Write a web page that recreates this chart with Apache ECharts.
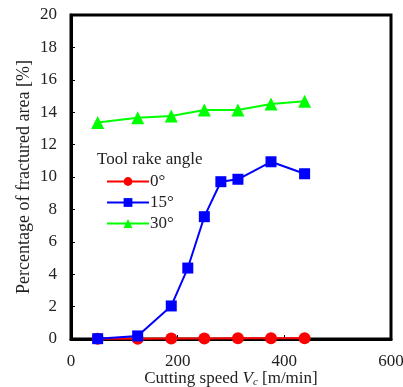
<!DOCTYPE html>
<html lang="en">
<head>
  <meta charset="UTF-8">
  <title>Fractured area vs cutting speed</title>
  <script src="https://cdn.jsdelivr.net/npm/echarts@6/dist/echarts.min.js"></script>
  <style>
    html, body { margin: 0; padding: 0; background: #fff; }
    #chart { width: 403px; height: 387px; }
  </style>
</head>
<body>
  <div id="chart"></div>
  <script>
    // cutting speed Vc [m/min]
    var aSpeed = [50, 125, 188, 250, 313, 375, 438];
    var aSpeed15 = [50, 125, 188, 219, 250, 281, 313, 375, 438];
    // fractured area [%]
    var aRake0 = [0.02, 0.02, 0.03, 0.03, 0.04, 0.05, 0.05];
    var aRake15 = [0.02, 0.19, 2.04, 4.38, 7.55, 9.71, 9.86, 10.94, 10.2];
    var aRake30 = [13.37, 13.66, 13.77, 14.14, 14.14, 14.5, 14.67];
    var aNames = ['0°', '15°', '30°'];

    function pairs(xs, ys) {
      var out = [];
      for (var i = 0; i < xs.length; i++) {
        out.push([xs[i], ys[i]]);
      }
      return out;
    }

    var sFont = '"Liberation Serif", "DejaVu Serif", serif';
    var oChart = echarts.init(document.getElementById('chart'));
    var chartopt = {
      animation: false,
      textStyle: { fontFamily: sFont },
      title: {
        text: 'Tool rake angle',
        left: 97,
        top: 151,
        padding: 0,
        textStyle: { fontFamily: sFont, fontSize: 17, fontWeight: 'normal', color: '#222' }
      },
      legend: {
        data: aNames,
        orient: 'vertical',
        left: 101,
        top: 168,
        itemWidth: 42,
        itemHeight: 11,
        itemGap: 4,
        textStyle: { fontFamily: sFont, fontSize: 17, color: '#222', padding: [0, 0, 0, -4] }
      },
      grid: {
        show: true,
        left: 71,
        right: 12,
        top: 15,
        bottom: 48,
        outerBoundsMode: 'none',
        containLabel: false,
        borderColor: '#000',
        borderWidth: 3
      },
      xAxis: {
        type: 'value',
        min: 0,
        max: 600,
        interval: 200,
        name: '{n|Cutting speed }{v|V}{s|c}{n| [m/min]}',
        nameLocation: 'middle',
        nameMoveOverlap: false,
        nameGap: 31,
        nameTextStyle: {
          rich: {
            n: { fontFamily: sFont, fontSize: 17, color: '#222', lineHeight: 18 },
            v: { fontFamily: sFont, fontSize: 17, fontStyle: 'italic', color: '#222', lineHeight: 18 },
            s: { fontFamily: sFont, fontSize: 11, fontStyle: 'italic', color: '#222', lineHeight: 18, verticalAlign: 'bottom' }
          }
        },
        axisLine: { lineStyle: { color: '#000', width: 3 } },
        axisTick: { inside: true, length: 4, lineStyle: { color: '#000' } },
        axisLabel: { fontFamily: sFont, fontSize: 17, color: '#222', margin: 14 },
        splitLine: { show: false }
      },
      yAxis: {
        type: 'value',
        min: 0,
        max: 20,
        interval: 2,
        name: 'Percentage of fractured area [%]',
        nameLocation: 'middle',
        nameMoveOverlap: false,
        nameGap: 38,
        nameTextStyle: { fontFamily: sFont, fontSize: 18, color: '#222' },
        axisLine: { lineStyle: { color: '#000', width: 3 } },
        axisTick: { inside: true, length: 4, lineStyle: { color: '#000' } },
        axisLabel: { fontFamily: sFont, fontSize: 17, color: '#222', margin: 14 },
        splitLine: { show: false }
      },
      series: [
        {
          name: aNames[0],
          type: 'line',
          data: pairs(aSpeed, aRake0),
          symbol: 'circle',
          symbolSize: 12,
          itemStyle: { color: '#ff0000' },
          lineStyle: { color: '#ff0000', width: 2 },
          z: 3
        },
        {
          name: aNames[1],
          type: 'line',
          data: pairs(aSpeed15, aRake15),
          symbol: 'rect',
          symbolSize: 11,
          itemStyle: { color: '#0000ff' },
          lineStyle: { color: '#0000ff', width: 2 },
          z: 4
        },
        {
          name: aNames[2],
          type: 'line',
          data: pairs(aSpeed, aRake30),
          symbol: 'triangle',
          symbolSize: 13,
          itemStyle: { color: '#00ff00' },
          lineStyle: { color: '#00ff00', width: 2 },
          z: 5
        }
      ]
    };
    oChart.setOption(chartopt);
  </script>
</body>
</html>
